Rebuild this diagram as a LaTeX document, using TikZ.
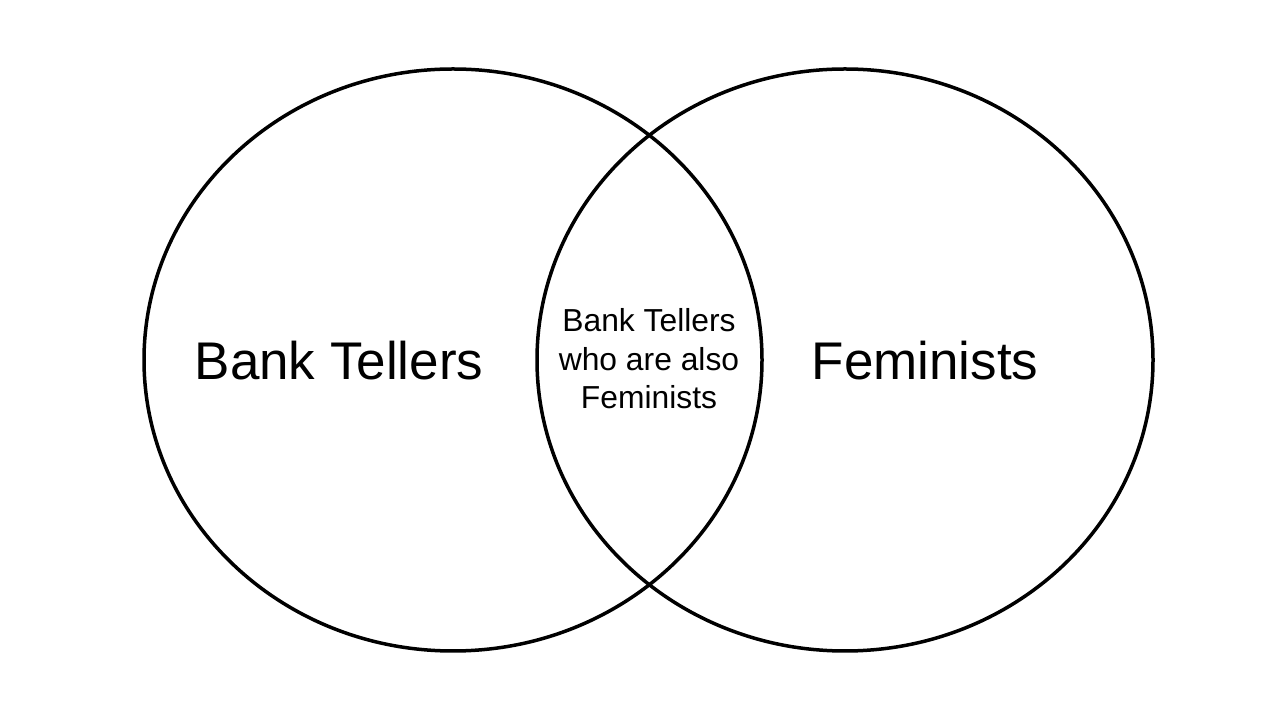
\documentclass[tikz,border=0pt]{standalone}
\usepackage{fontspec}
\setmainfont{Liberation Sans}
\usepackage{tikz}
\usetikzlibrary{positioning}

\begin{document}
\begin{tikzpicture}[x=1pt,y=1pt,
    setline/.style={line width=3.5pt},
    biglabel/.style={inner sep=0pt,anchor=base,font=\fontsize{53}{60}\selectfont},
    smalllabel/.style={inner sep=0pt,align=center,font=\fontsize{31.8}{38.5}\selectfont}]
    \useasboundingbox (0,0) rectangle (1280,720);
    \draw[setline] (453,360) ellipse [x radius=309,y radius=291];
    \draw[setline] (845,360) ellipse [x radius=308,y radius=291];
    \node[biglabel] (tellers) at (339,340) {Bank Tellers};
    \node[biglabel] (feminists) at (925,340) {Feminists};
    \node[smalllabel] (both) at (649,361) {Bank Tellers\\who are also\\Feminists};
  \end{tikzpicture}
\end{document}
